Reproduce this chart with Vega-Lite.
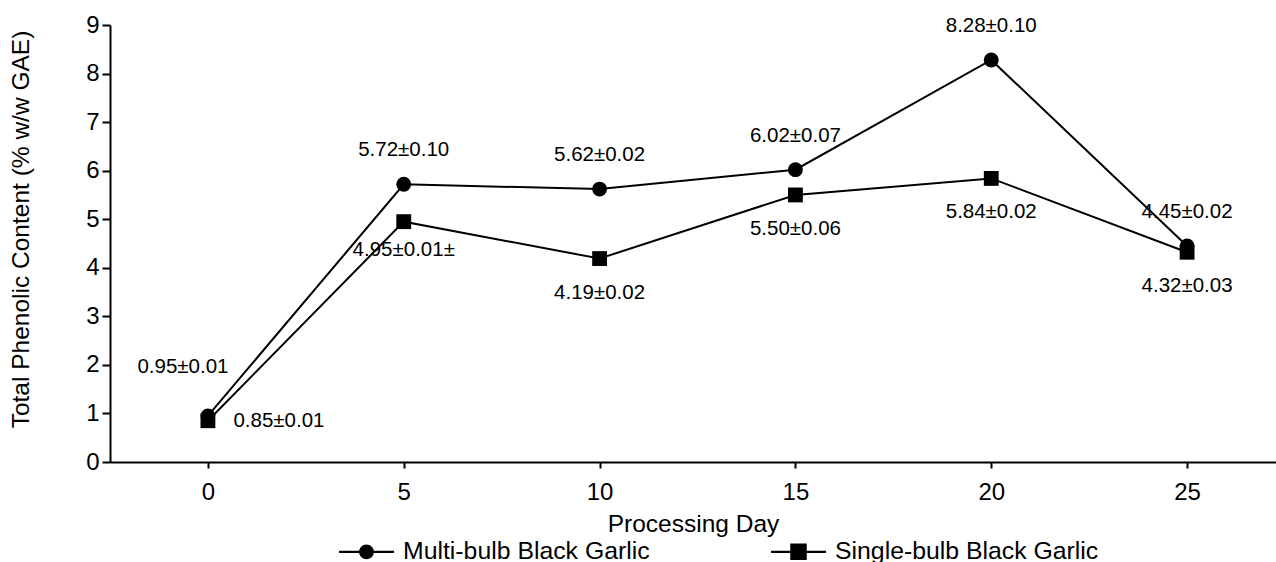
{
  "$schema": "https://vega.github.io/schema/vega-lite/v6.json",
  "width": 1166,
  "height": 437,
  "autosize": {"type": "none"},
  "padding": {"left": 110, "top": 25, "right": 0, "bottom": 100},
  "background": "white",
  "config": {
    "font": "Liberation Sans",
    "view": {"stroke": null},
    "axis": {
      "grid": false,
      "domainColor": "black",
      "domainWidth": 2,
      "tickColor": "black",
      "tickWidth": 2,
      "labelColor": "black",
      "titleColor": "black",
      "titleFontWeight": "normal",
      "labelFont": "Liberation Sans",
      "titleFont": "Liberation Sans"
    }
  },
  "data": {
    "values": [
      {"day": 0, "series": "Multi-bulb Black Garlic", "value": 0.95, "label": "0.95±0.01"},
      {"day": 5, "series": "Multi-bulb Black Garlic", "value": 5.72, "label": "5.72±0.10"},
      {"day": 10, "series": "Multi-bulb Black Garlic", "value": 5.62, "label": "5.62±0.02"},
      {"day": 15, "series": "Multi-bulb Black Garlic", "value": 6.02, "label": "6.02±0.07"},
      {"day": 20, "series": "Multi-bulb Black Garlic", "value": 8.28, "label": "8.28±0.10"},
      {"day": 25, "series": "Multi-bulb Black Garlic", "value": 4.45, "label": "4.45±0.02"},
      {"day": 0, "series": "Single-bulb Black Garlic", "value": 0.85, "label": "0.85±0.01"},
      {"day": 5, "series": "Single-bulb Black Garlic", "value": 4.95, "label": "4.95±0.01±"},
      {"day": 10, "series": "Single-bulb Black Garlic", "value": 4.19, "label": "4.19±0.02"},
      {"day": 15, "series": "Single-bulb Black Garlic", "value": 5.50, "label": "5.50±0.06"},
      {"day": 20, "series": "Single-bulb Black Garlic", "value": 5.84, "label": "5.84±0.02"},
      {"day": 25, "series": "Single-bulb Black Garlic", "value": 4.32, "label": "4.32±0.03"}
    ]
  },
  "encoding": {
    "x": {
      "field": "day",
      "type": "quantitative",
      "scale": {"domain": [-2.5, 27.27], "nice": false, "zero": false},
      "axis": {
        "title": "Processing Day",
        "values": [0, 5, 10, 15, 20, 25],
        "tickSize": 6,
        "labelFontSize": 24,
        "labelPadding": 12,
        "labelFlush": false,
        "titleFontSize": 24.5,
        "titlePadding": 8
      }
    },
    "y": {
      "field": "value",
      "type": "quantitative",
      "scale": {"domain": [0, 9], "nice": false},
      "axis": {
        "title": "Total Phenolic Content (% w/w GAE)",
        "values": [0, 1, 2, 3, 4, 5, 6, 7, 8, 9],
        "tickSize": 8,
        "labelPadding": 3,
        "labelFontSize": 24,
        "titleFontSize": 24.5,
        "titlePadding": 52,
        "titleY": 204
      }
    }
  },
  "resolve": {"scale": {"shape": "independent"}, "legend": {"shape": "independent"}},
  "layer": [
    {
      "mark": {"type": "line", "color": "black", "strokeWidth": 2},
      "encoding": {"detail": {"field": "series", "type": "nominal"}}
    },
    {
      "mark": {"type": "point", "filled": true, "color": "black", "opacity": 1, "size": 220},
      "encoding": {
        "shape": {
          "field": "series",
          "type": "nominal",
          "scale": {"domain": ["Multi-bulb Black Garlic", "Single-bulb Black Garlic"], "range": ["circle", "square"]},
          "legend": null
        }
      }
    },
    {
      "transform": [{"filter": "datum.day < 0"}],
      "mark": {"type": "point", "filled": true, "color": "black", "opacity": 1},
      "encoding": {
        "shape": {
          "field": "series",
          "type": "nominal",
          "scale": {
            "domain": ["Multi-bulb Black Garlic", "Single-bulb Black Garlic"],
            "range": [
              "M-1,-0.04L-0.25,-0.04L-0.25,0.04L-1,0.04ZM0.25,-0.04L1,-0.04L1,0.04L0.25,0.04ZM0.27,0A0.27,0.27,0,1,1,-0.27,0A0.27,0.27,0,1,1,0.27,0Z",
              "M-1,-0.04L-0.28,-0.04L-0.28,0.04L-1,0.04ZM0.28,-0.04L1,-0.04L1,0.04L0.28,0.04ZM-0.3,-0.3L0.3,-0.3L0.3,0.3L-0.3,0.3Z"
            ]
          },
          "legend": {
            "title": null,
            "orient": "none",
            "legendX": 228,
            "legendY": 498,
            "direction": "horizontal",
            "columnPadding": 118,
            "symbolSize": 3025,
            "labelFontSize": 24.8,
            "labelColor": "black",
            "labelFont": "Liberation Sans",
            "labelOffset": 8,
            "labelLimit": 0,
            "padding": 0,
            "symbolFillColor": "black",
            "symbolOpacity": 1
          }
        }
      }
    },
    {
      "transform": [{"filter": "datum.series == 'Multi-bulb Black Garlic' && datum.day > 0"}],
      "mark": {"type": "text", "fontSize": 20.5, "color": "black", "baseline": "middle", "align": "center", "dy": -34},
      "encoding": {"text": {"field": "label"}}
    },
    {
      "transform": [{"filter": "datum.series == 'Multi-bulb Black Garlic' && datum.day == 0"}],
      "mark": {"type": "text", "fontSize": 20.5, "color": "black", "baseline": "middle", "align": "center", "dx": -25, "dy": -49},
      "encoding": {"text": {"field": "label"}}
    },
    {
      "transform": [{"filter": "datum.series == 'Single-bulb Black Garlic' && datum.day >= 10"}],
      "mark": {"type": "text", "fontSize": 20.5, "color": "black", "baseline": "middle", "align": "center", "dy": 34},
      "encoding": {"text": {"field": "label"}}
    },
    {
      "transform": [{"filter": "datum.series == 'Single-bulb Black Garlic' && datum.day == 5"}],
      "mark": {"type": "text", "fontSize": 20.5, "color": "black", "baseline": "middle", "align": "center", "dy": 28},
      "encoding": {"text": {"field": "label"}}
    },
    {
      "transform": [{"filter": "datum.series == 'Single-bulb Black Garlic' && datum.day == 0"}],
      "mark": {"type": "text", "fontSize": 20.5, "color": "black", "baseline": "middle", "align": "center", "dx": 71},
      "encoding": {"text": {"field": "label"}}
    }
  ]
}
